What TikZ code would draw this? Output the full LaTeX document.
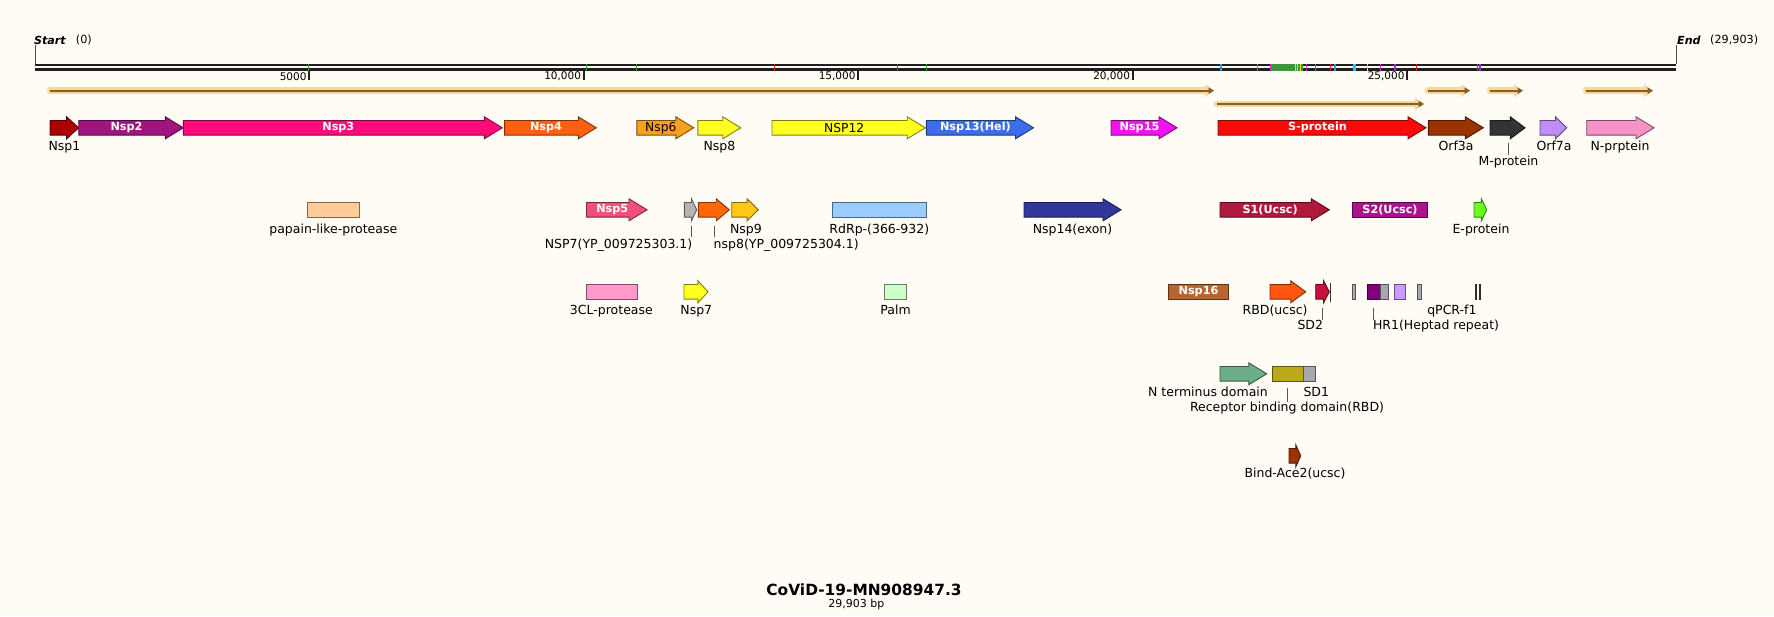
\documentclass[tikz,border=0pt]{standalone}
\usepackage{fontspec}
\setmainfont{DejaVu Sans}
\usetikzlibrary{arrows.meta}
\definecolor{bg}{RGB}{255,252,245}
\definecolor{rul}{RGB}{32,32,32}
\definecolor{cNspA}{RGB}{170,0,0}
\definecolor{cNspB}{RGB}{160,20,128}
\definecolor{cNspC}{RGB}{255,10,122}
\definecolor{cNspD}{RGB}{255,96,16}
\definecolor{cNspF}{RGB}{245,160,30}
\definecolor{cYel}{RGB}{255,255,34}
\definecolor{cHel}{RGB}{60,110,235}
\definecolor{cNspO}{RGB}{238,20,238}
\definecolor{cS}{RGB}{250,10,10}
\definecolor{cOrfA}{RGB}{153,51,0}
\definecolor{cM}{RGB}{51,51,51}
\definecolor{cOrfS}{RGB}{192,140,245}
\definecolor{cN}{RGB}{245,146,200}
\definecolor{cPap}{RGB}{255,204,153}
\definecolor{cNspE}{RGB}{240,80,122}
\definecolor{cGray}{RGB}{180,180,180}
\definecolor{cOra}{RGB}{255,102,10}
\definecolor{cNspI}{RGB}{255,200,20}
\definecolor{cRdRp}{RGB}{153,204,255}
\definecolor{cExo}{RGB}{50,56,154}
\definecolor{cSA}{RGB}{176,24,60}
\definecolor{cSB}{RGB}{170,20,138}
\definecolor{cE}{RGB}{102,255,34}
\definecolor{cCL}{RGB}{255,153,204}
\definecolor{cPalm}{RGB}{204,255,204}
\definecolor{cNspP}{RGB}{184,101,47}
\definecolor{cRBDu}{RGB}{255,85,17}
\definecolor{cSDB}{RGB}{200,16,62}
\definecolor{cHR}{RGB}{128,0,128}
\definecolor{cGrayB}{RGB}{168,168,176}
\definecolor{cBar}{RGB}{90,90,90}
\definecolor{cLav}{RGB}{204,153,255}
\definecolor{cNterm}{RGB}{108,174,138}
\definecolor{cOlive}{RGB}{186,170,24}
\definecolor{cAce}{RGB}{153,51,8}
\definecolor{glow}{RGB}{248,214,160}
\definecolor{orfline}{RGB}{130,95,35}
\definecolor{mGreen}{RGB}{60,150,60}
\definecolor{mRed}{RGB}{225,30,30}
\definecolor{mBlue}{RGB}{50,150,220}
\definecolor{mMag}{RGB}{210,50,210}
\definecolor{mYel}{RGB}{235,220,30}
\definecolor{mCyan}{RGB}{30,200,235}
\definecolor{mPur}{RGB}{150,50,210}

\tikzset{
  lbl/.style={font=\fontsize{12.5}{14}\selectfont, text=black, inner sep=0pt, text height=9pt, text depth=2.5pt},
  inlbl/.style={font=\fontsize{11.2}{13}\selectfont\bfseries, text=white, inner sep=0pt},
  inlblk/.style={font=\fontsize{12.3}{14}\selectfont, text=black, inner sep=0pt},
  rlbl/.style={font=\fontsize{10.5}{12}\selectfont, text=black, inner sep=0pt},
  leader/.style={draw=black!65, line width=0.8},
  ruler/.style={draw=rul, line width=2.3},
  tickmark/.style={draw=rul, line width=2},
  sitemark/.style={line width=1.4},
  orfglow/.style={draw=glow, line width=6.5, line cap=round, -{Triangle[length=9pt,width=12pt]}},
  orfin/.style={draw=orfline, line width=2, -{Triangle[length=5.5pt,width=6.5pt]}},
}

\newcommand\genearrow[5]{%
  \pgfmathsetmacro\hl{min(18,0.42*(#3-#2))}%
  \pgfmathsetmacro\cx{(#2+#3-\hl/2)/2}%
  \filldraw[fill=#5, draw=#5!50!black, line width=0.9]
    (#2,#4-7.3) -- ({#3-\hl},#4-7.3) -- ({#3-\hl},#4-11) -- (#3,#4)
    -- ({#3-\hl},#4+11) -- ({#3-\hl},#4+7.3) -- (#2,#4+7.3) -- cycle;
  \coordinate (#1) at (\cx,#4);
}
\newcommand\genebox[5]{%
  \filldraw[fill=#5, draw=#5!50!black, line width=0.9] (#2,#4-7.5) rectangle (#3,#4+7.5);
  \coordinate (#1) at ({(#2+#3)/2},#4);
}

\begin{document}
\begin{tikzpicture}[x=1pt,y=-1pt]
\useasboundingbox (0,0) rectangle (1774,616);
\fill[bg] (0,0) rectangle (1774,616);

% ---------- ruler ----------
\coordinate (rs) at (35,64.8);
\coordinate (re) at (1676,64.8);
\coordinate (rs2) at (35,69.5);
\coordinate (re2) at (1676,69.5);
\draw[ruler] (rs) -- (re);
\draw[ruler] (rs2) -- (re2);
\coordinate (st) at (35.3,45);
\coordinate (en) at (1676,45);
\draw[draw=black!70, line width=0.8] (st) -- (35.3,64);
\draw[draw=black!70, line width=0.8] (en) -- (1676,64);
\node[font=\fontsize{11.1}{13}\selectfont\bfseries\itshape, anchor=west, inner sep=0pt] (tStart) at (34,40) {Start};
\node[font=\fontsize{11.2}{13}\selectfont, anchor=west, inner sep=0pt] (tZero) at (75.7,40) {(0)};
\node[font=\fontsize{11.1}{13}\selectfont\bfseries\itshape, anchor=west, inner sep=0pt] (tEnd) at (1677,40) {End};
\node[font=\fontsize{11.2}{13}\selectfont, anchor=west, inner sep=0pt] (tLen) at (1710,40) {(29,903)};

% site marks
\foreach \x in {308.5,586.7,636.6,926.3} \draw[sitemark, mGreen] (\x,63.5) -- (\x,71);
\foreach \x in {774.4,897.6,1330.7,1416.7} \draw[sitemark, mRed] (\x,63.5) -- (\x,71);
\foreach \x in {1221,1257.3,1335} \draw[sitemark, mBlue] (\x,63.5) -- (\x,71);
\fill[mGreen] (1271,63.5) rectangle (1303.3,71);
\foreach \x in {1271,1306.7,1315.7,1380.7} \draw[sitemark, mMag] (\x,63.5) -- (\x,71);
\foreach \x in {1295,1297.5,1300,1367.7} \draw[line width=0.9, mYel] (\x,63.5) -- (\x,71);
\fill[mCyan] (1352.7,63.5) rectangle (1355.7,71);
\foreach \x in {1395,1477.3,1480} \draw[sitemark, mPur] (\x,63.5) -- (\x,71);

% ticks
\foreach \x/\t in {309.2/5000,583.7/{10,000},858.2/{15,000},1132.7/{20,000},1407.2/{25,000}}{
  \draw[tickmark] (\x,70.7) -- (\x,80);
  \node[rlbl, anchor=east] at (\x-2.5,76.5) {\t};
}

% ---------- ORF lines ----------
\foreach \a/\b/\y [count=\i] in {50/1214/90.7, 1217/1424/104, 1428/1470/90.7, 1490/1523/90.7, 1586/1653/90.7}{
  \coordinate (oa\i) at (\a,\y);
  \coordinate (ob\i) at (\b,\y);
  \draw[orfglow] (oa\i) -- (ob\i);
  \draw[orfin] (oa\i) -- (ob\i);
}

% ---------- row 1 ----------
\def\ya{127.8}
\genearrow{gNspA}{50}{78.7}{\ya}{cNspA}
\genearrow{gNspB}{78.7}{183.3}{\ya}{cNspB}
\genearrow{gNspC}{183.3}{502.3}{\ya}{cNspC}
\genearrow{gNspD}{504.6}{596.3}{\ya}{cNspD}
\genearrow{gNspF}{636.8}{693.8}{\ya}{cNspF}
\genearrow{gNspH}{697.9}{740.7}{\ya}{cYel}
\genearrow{gNspL}{772}{925.2}{\ya}{cYel}
\genearrow{gHel}{926.3}{1033.5}{\ya}{cHel}
\genearrow{gNspO}{1111}{1177}{\ya}{cNspO}
\genearrow{gS}{1218}{1426}{\ya}{cS}
\genearrow{gOrfA}{1428.3}{1483.3}{\ya}{cOrfA}
\genearrow{gM}{1490}{1525}{\ya}{cM}
\genearrow{gOrfS}{1540}{1566.7}{\ya}{cOrfS}
\genearrow{gN}{1586.7}{1654}{\ya}{cN}

\node[inlbl] (tNspB) at (gNspB) {Nsp2};
\node[inlbl] (tNspC) at (gNspC) {Nsp3};
\node[inlbl] (tNspD) at (gNspD) {Nsp4};
\node[inlblk] (tNspF) at (gNspF) {Nsp6};
\node[inlblk] (tNspL) at (gNspL) {NSP12};
\node[inlbl] (tHel) at (gHel) {Nsp13(Hel)};
\node[inlbl] (tNspO) at (gNspO) {Nsp15};
\node[inlbl] (tS) at (gS) {S-protein};

\node[lbl] (lNspA) at (64.5,147.5) {Nsp1};
\node[lbl] (lNspH) at (719.5,147.5) {Nsp8};
\node[lbl] (lOrfA) at (1456,147.5) {Orf3a};
\node[lbl] (lOrfS) at (1554,147.5) {Orf7a};
\node[lbl] (lN) at (1620,147.5) {N-prptein};
\coordinate (mA) at (1508.3,143.3);
\coordinate (mB) at (1508.3,155);
\draw[leader] (mA) -- (mB);
\node[lbl] (lM) at (1508.5,162.3) {M-protein};

% ---------- row 2 ----------
\def\yb{209.8}
\genebox{gPap}{307}{359.6}{\yb}{cPap}
\genearrow{gNspE}{586.5}{647}{\yb}{cNspE}
\genearrow{gGrayA}{684.3}{696.7}{\yb}{cGray}
\genearrow{gOra}{698.3}{729.3}{\yb}{cOra}
\genearrow{gNspI}{731.7}{758.3}{\yb}{cNspI}
\genebox{gRdRp}{832.7}{926.7}{\yb}{cRdRp}
\genearrow{gExo}{1024}{1121}{\yb}{cExo}
\genearrow{gSA}{1220}{1329.3}{\yb}{cSA}
\genebox{gSB}{1352.3}{1427.7}{\yb}{cSB}
\genearrow{gE}{1474}{1486.7}{\yb}{cE}

\node[inlbl] (tNspE) at (gNspE) {Nsp5};
\node[inlbl] (tSA) at (gSA) {S1(Ucsc)};
\node[inlbl] (tSB) at (gSB) {S2(Ucsc)};

\node[lbl] (lPap) at (333.3,230) {papain-like-protease};
\node[lbl] (lNspI) at (746,230) {Nsp9};
\node[lbl] (lRdRp) at (879.3,230) {RdRp-(366-932)};
\node[lbl] (lExo) at (1072.5,230) {Nsp14(exon)};
\node[lbl] (lE) at (1481,230) {E-protein};
\coordinate (nA) at (691.7,226);
\coordinate (nB) at (691.7,236.7);
\coordinate (nC) at (714,226);
\coordinate (nD) at (714,236.7);
\draw[leader] (nA) -- (nB);
\draw[leader] (nC) -- (nD);
\node[lbl, anchor=east] (lNspG) at (692.5,245) {NSP7(YP\_009725303.1)};
\node[lbl, anchor=west] (lNspHb) at (713.5,245) {nsp8(YP\_009725304.1)};

% ---------- row 3 ----------
\def\yc{291.8}
\genebox{gCL}{586.5}{637.4}{\yc}{cCL}
\genearrow{gNspG}{684}{708}{\yc}{cYel}
\genebox{gPalm}{884.5}{906.7}{\yc}{cPalm}
\genebox{gNspP}{1168.3}{1228.7}{\yc}{cNspP}
\genearrow{gRBDu}{1270}{1305.7}{\yc}{cRBDu}
\genearrow{gSDB}{1315.7}{1329.3}{\yc}{cSDB}
\coordinate (sdA) at (1330.3,283.3);
\coordinate (sdB) at (1330.3,301.5);
\draw[draw=black!80, line width=0.9] (sdA) -- (sdB);
\genebox{gGrayB}{1352.3}{1355.7}{\yc}{cGrayB}
\genebox{gHR}{1367}{1380.7}{\yc}{cHR}
\genebox{gGrayC}{1380.7}{1388.7}{\yc}{cGrayB}
\genebox{gLav}{1394.3}{1405.7}{\yc}{cLav}
\genebox{gGrayD}{1417.3}{1421.7}{\yc}{cGrayB}
\genebox{gQa}{1475.4}{1476.4}{\yc}{cBar}
\genebox{gQb}{1479.4}{1480.4}{\yc}{cBar}

\node[inlbl] (tNspP) at (gNspP) {Nsp16};
\node[lbl] (lCL) at (611.4,311.7) {3CL-protease};
\node[lbl] (lNspG) at (696.3,311.7) {Nsp7};
\node[lbl] (lPalm) at (895.6,311.7) {Palm};
\node[lbl, anchor=east] (lRBDu) at (1307.7,311.7) {RBD(ucsc)};
\node[lbl, anchor=east] (lQ) at (1476.7,311.7) {qPCR-f1};
\coordinate (sA) at (1322.7,308);
\coordinate (sB) at (1322.7,320);
\draw[leader] (sA) -- (sB);
\node[lbl, anchor=east] (lSDB) at (1323.2,326.7) {SD2};
\coordinate (hA) at (1373.3,308);
\coordinate (hB) at (1373.3,320);
\draw[leader] (hA) -- (hB);
\node[lbl, anchor=west] (lHR) at (1372.8,326.7) {HR1(Heptad repeat)};

% ---------- row 4 ----------
\def\yd{373.8}
\genearrow{gNterm}{1220}{1266.7}{\yd}{cNterm}
\genebox{gRBD}{1272.3}{1303.3}{\yd}{cOlive}
\genebox{gSDA}{1303.3}{1315.7}{\yd}{cGrayB}
\node[lbl, anchor=east] (lNterm) at (1268,393.3) {N terminus domain};
\node[lbl, anchor=west] (lSDA) at (1303.3,393.3) {SD1};
\coordinate (rA) at (1287.3,388);
\coordinate (rB) at (1287.3,402);
\draw[leader] (rA) -- (rB);
\node[lbl] (lRBD) at (1287,408.3) {Receptor binding domain(RBD)};

% ---------- row 5 ----------
\def\ye{455.8}
\genearrow{gAce}{1289}{1300.7}{\ye}{cAce}
\node[lbl] (lAce) at (1295,474.5) {Bind-Ace2(ucsc)};

% ---------- title ----------
\node[font=\fontsize{15.4}{18}\selectfont\bfseries, inner sep=0pt] (title) at (864,589.3) {CoViD-19-MN908947.3};
\node[font=\fontsize{11}{13}\selectfont, inner sep=0pt] (bp) at (856.3,604) {29,903 bp};
\end{tikzpicture}
\end{document}
